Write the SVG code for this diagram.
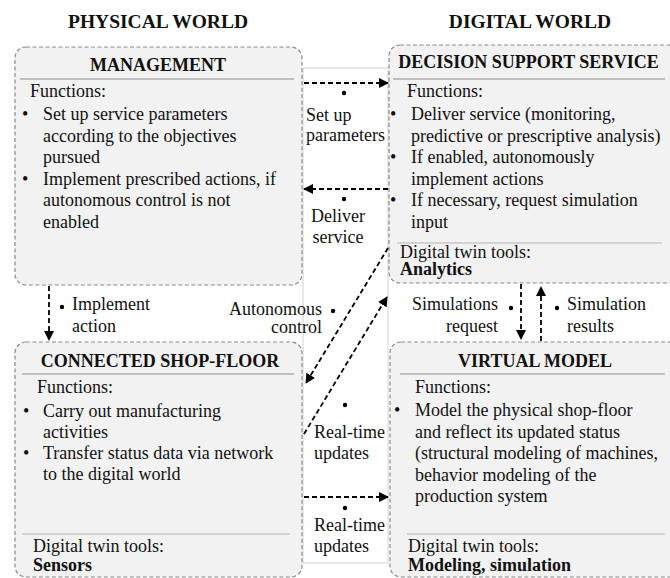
<svg xmlns="http://www.w3.org/2000/svg" width="670" height="578" viewBox="0 0 670 578" font-family="'Liberation Serif', 'DejaVu Serif', serif">
  <defs>
    <marker id="arr" viewBox="0 0 10 10" refX="9" refY="5" markerWidth="10" markerHeight="10" markerUnits="userSpaceOnUse" orient="auto">
      <path d="M0,0 L10,5 L0,10 z" fill="#000"/>
    </marker>
    <style>
      text { font-family: 'Liberation Serif', 'DejaVu Serif', serif; fill: #111; }
      .hdr { font-size: 19.5px; font-weight: bold; text-anchor: middle; }
      .ttl { font-size: 18px; font-weight: bold; text-anchor: middle; }
      .body { font-size: 18px; }
      .bold { font-size: 18px; font-weight: bold; }
      .lbl { font-size: 18px; }
      .box { fill: #f2f2f2; stroke: #8a8a8a; stroke-width: 1.2; stroke-dasharray: 4 2.5; }
      .div1 { stroke: #8c8c8c; stroke-width: 1; }
      .div2 { stroke: #b4b4b4; stroke-width: 1; }
      .lane { fill: #fff; stroke: #d2d2d2; stroke-width: 1; }
      .conn { fill: none; stroke: #000; stroke-width: 1.8; stroke-dasharray: 5 3; }
      .dot { fill: #000; }
    </style>
  </defs>

  <rect width="670" height="578" fill="#fff"/>

  <!-- column headings -->
  <text class="hdr" x="158" y="28">PHYSICAL WORLD</text>
  <text class="hdr" x="530" y="28">DIGITAL WORLD</text>

  <!-- exchange lane between the two worlds -->
  <rect class="lane" x="303" y="68" width="85" height="495"/>

  <g id="management">
    <rect class="box" x="15" y="47" width="287" height="238" rx="11"/>
    <text class="ttl" x="158" y="71">MANAGEMENT</text>
    <line class="div1" x1="20" y1="79" x2="294" y2="79"/>
    <text class="body" x="30" y="97">Functions:</text>
    <text class="body" x="22" y="120">•</text>
    <text class="body" x="43" y="120">Set up service parameters</text>
    <text class="body" x="43" y="142">according to the objectives</text>
    <text class="body" x="43" y="163">pursued</text>
    <text class="body" x="22" y="185">•</text>
    <text class="body" x="43" y="185">Implement prescribed actions, if</text>
    <text class="body" x="43" y="206">autonomous control is not</text>
    <text class="body" x="43" y="228">enabled</text>
  </g>

  <g id="decision-support-service">
    <rect class="box" x="389" y="45" width="300" height="238" rx="11"/>
    <text class="ttl" x="528.5" y="68">DECISION SUPPORT SERVICE</text>
    <line class="div1" x1="393" y1="79" x2="665" y2="79"/>
    <text class="body" x="407" y="97">Functions:</text>
    <text class="body" x="390" y="120">•</text>
    <text class="body" x="411" y="120">Deliver service (monitoring,</text>
    <text class="body" x="411" y="142">predictive or prescriptive analysis)</text>
    <text class="body" x="390" y="163">•</text>
    <text class="body" x="411" y="163">If enabled, autonomously</text>
    <text class="body" x="411" y="185">implement actions</text>
    <text class="body" x="390" y="206">•</text>
    <text class="body" x="411" y="206">If necessary, request simulation</text>
    <text class="body" x="411" y="228">input</text>
    <line class="div2" x1="397" y1="243" x2="662" y2="243"/>
    <text class="body" x="400" y="258">Digital twin tools:</text>
    <text class="bold" x="400" y="275">Analytics</text>
  </g>

  <g id="connected-shop-floor">
    <rect class="box" x="15" y="342" width="287" height="235" rx="11"/>
    <text class="ttl" x="160" y="367">CONNECTED SHOP-FLOOR</text>
    <line class="div1" x1="22" y1="374" x2="294" y2="374"/>
    <text class="body" x="37" y="393">Functions:</text>
    <text class="body" x="23" y="417">•</text>
    <text class="body" x="43" y="417">Carry out manufacturing</text>
    <text class="body" x="43" y="438">activities</text>
    <text class="body" x="23" y="459">•</text>
    <text class="body" x="43" y="459">Transfer status data via network</text>
    <text class="body" x="43" y="480">to the digital world</text>
    <line class="div2" x1="22" y1="534" x2="290" y2="534"/>
    <text class="body" x="33" y="552">Digital twin tools:</text>
    <text class="bold" x="33" y="571">Sensors</text>
  </g>

  <g id="virtual-model">
    <rect class="box" x="390" y="342" width="300" height="235" rx="11"/>
    <text class="ttl" x="535" y="367">VIRTUAL MODEL</text>
    <line class="div1" x1="400" y1="374" x2="665" y2="374"/>
    <text class="body" x="415" y="393">Functions:</text>
    <text class="body" x="394" y="416">•</text>
    <text class="body" x="415" y="416">Model the physical shop-floor</text>
    <text class="body" x="415" y="438">and reflect its updated status</text>
    <text class="body" x="415" y="459">(structural modeling of machines,</text>
    <text class="body" x="415" y="481">behavior modeling of the</text>
    <text class="body" x="415" y="502">production system</text>
    <line class="div2" x1="407" y1="534" x2="665" y2="534"/>
    <text class="body" x="408" y="552">Digital twin tools:</text>
    <text class="bold" x="408" y="571">Modeling, simulation</text>
  </g>

  <g id="connectors">
    <!-- set up parameters -->
    <line class="conn" x1="304" y1="83" x2="388" y2="83" marker-end="url(#arr)"/>
    <circle class="dot" cx="344" cy="93" r="2.2"/>
    <text class="lbl" x="306" y="121">Set up</text>
    <text class="lbl" x="306" y="141">parameters</text>

    <!-- deliver service -->
    <line class="conn" x1="388" y1="189" x2="304" y2="189" marker-end="url(#arr)"/>
    <circle class="dot" cx="344" cy="199" r="2.2"/>
    <text class="lbl" x="338" y="222" text-anchor="middle">Deliver</text>
    <text class="lbl" x="338" y="243" text-anchor="middle">service</text>

    <!-- implement action -->
    <line class="conn" x1="49" y1="286" x2="49" y2="340" marker-end="url(#arr)"/>
    <circle class="dot" cx="62" cy="307" r="2.2"/>
    <text class="lbl" x="72" y="310">Implement</text>
    <text class="lbl" x="72" y="332">action</text>

    <!-- autonomous control -->
    <line class="conn" x1="388" y1="248" x2="306" y2="383" marker-end="url(#arr)"/>
    <circle class="dot" cx="333" cy="311" r="2.2"/>
    <text class="lbl" x="322" y="315" text-anchor="end">Autonomous</text>
    <text class="lbl" x="322" y="333" text-anchor="end">control</text>

    <!-- real-time updates (to analytics) -->
    <line class="conn" x1="304" y1="434" x2="387" y2="297" marker-end="url(#arr)"/>
    <circle class="dot" cx="345" cy="405" r="2.2"/>
    <text class="lbl" x="314" y="438">Real-time</text>
    <text class="lbl" x="314" y="459">updates</text>

    <!-- real-time updates (to virtual model) -->
    <line class="conn" x1="304" y1="497" x2="388" y2="497" marker-end="url(#arr)"/>
    <circle class="dot" cx="345" cy="508" r="2.2"/>
    <text class="lbl" x="314" y="531">Real-time</text>
    <text class="lbl" x="314" y="552">updates</text>

    <!-- simulations request -->
    <line class="conn" x1="521" y1="284" x2="521" y2="339" marker-end="url(#arr)"/>
    <circle class="dot" cx="511" cy="308" r="2.2"/>
    <text class="lbl" x="498" y="310" text-anchor="end">Simulations</text>
    <text class="lbl" x="498" y="332" text-anchor="end">request</text>

    <!-- simulation results -->
    <line class="conn" x1="541" y1="341" x2="541" y2="287" marker-end="url(#arr)"/>
    <circle class="dot" cx="557" cy="308" r="2.2"/>
    <text class="lbl" x="567" y="310">Simulation</text>
    <text class="lbl" x="567" y="332">results</text>
  </g>
</svg>
